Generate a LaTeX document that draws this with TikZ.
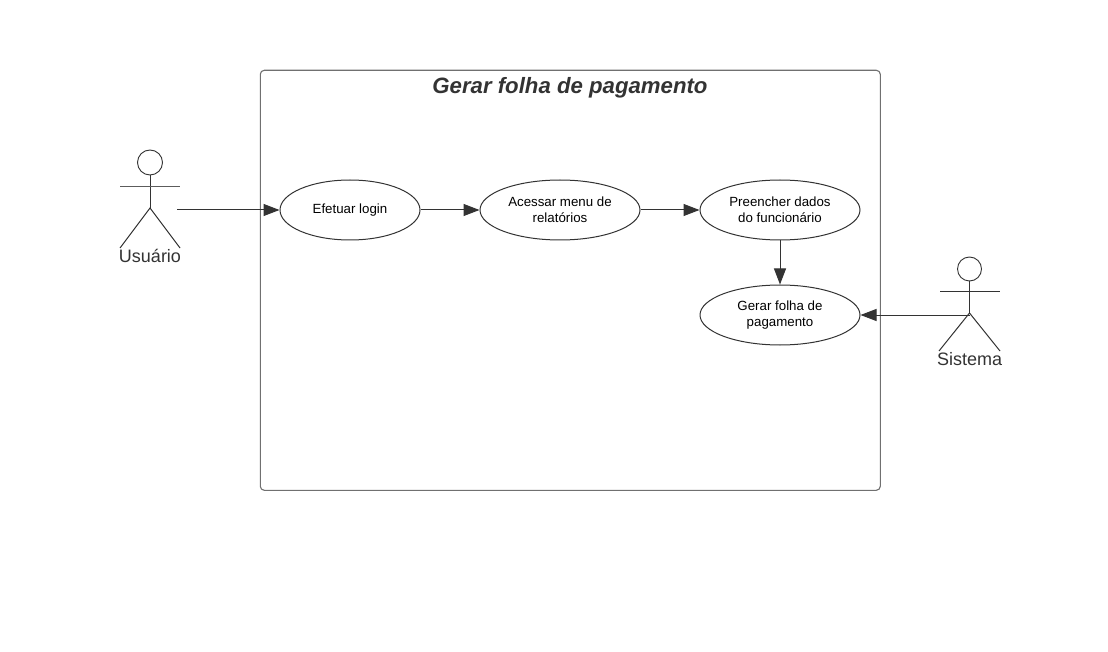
\documentclass[tikz,border=0pt]{standalone}
\usepackage{fontspec}
\setmainfont{Liberation Sans}
\usetikzlibrary{shapes.geometric,arrows.meta}
\definecolor{ink}{HTML}{333333}
\tikzset{
  x=1pt,y=-1pt,
  usecase/.style={ellipse,draw=ink,line width=1pt,fill=white,inner sep=0pt,align=center,font=\fontsize{13.3}{16}\selectfont,text=black},
  flow/.style={draw=ink,line width=1pt,-{Triangle[length=16pt,width=12pt,fill=ink]}},
  limb/.style={draw=ink,line width=1pt},
  actorlabel/.style={font=\fontsize{18}{20}\selectfont,text=ink,inner sep=0pt},
  boundary/.style={draw=ink!70!white,line width=1.1pt,rounded corners=4pt},
  boxtitle/.style={font=\fontsize{22.2}{26}\selectfont\bfseries\itshape,text=ink,inner sep=0pt},
}
\begin{document}
\begin{tikzpicture}
\useasboundingbox (0,0) rectangle (1108,652);
\fill[white] (0,0) rectangle (1108,652);
\draw[boundary] (260.3,70.3) rectangle (880.3,490.3);
\node[boxtitle] (title) at (570,88) {Gerar folha de pagamento};
% use cases
\node[usecase,minimum width=140pt,minimum height=60pt] (login) at (350,210) {Efetuar login};
\node[usecase,minimum width=160pt,minimum height=60pt] (menu) at (560,210) {Acessar menu de\\relatórios};
\node[usecase,minimum width=160pt,minimum height=60pt] (dados) at (780,210) {Preencher dados\\do funcionário};
\node[usecase,minimum width=160pt,minimum height=60pt] (gerar) at (780,315) {Gerar folha de\\pagamento};
% actor Usuario
\node[circle,draw=ink,line width=0.9pt,minimum size=25pt,inner sep=0pt] (uhead) at (150,162.5) {};
\coordinate (uhip) at (150,208);
\coordinate (uarmL) at (120,187);
\coordinate (uarmR) at (180,187);
\coordinate (ulegL) at (120,248);
\coordinate (ulegR) at (180,248);
\coordinate (uhand) at (177,210);
\draw[limb] (uhead.south) -- (uhip);
\draw[limb,draw=ink!80!white] (uarmL) -- (uarmR);
\draw[limb] (ulegL) -- (uhip) -- (ulegR);
\node[actorlabel] (ulabel) at (150,256) {Usuário};
% actor Sistema
\node[circle,draw=ink,line width=0.9pt,minimum size=24pt,inner sep=0pt] (shead) at (969.5,269) {};
\coordinate (ship) at (969.5,313);
\coordinate (sarmL) at (940,292);
\coordinate (sarmR) at (1000,292);
\coordinate (slegL) at (939,351);
\coordinate (slegR) at (1000,351);
\coordinate (shand) at (969.5,315);
\draw[limb] (shead.south) -- (ship);
\draw[limb] (sarmL) -- (sarmR);
\draw[limb] (slegL) -- (ship) -- (slegR);
\node[actorlabel] (slabel) at (969.5,359.5) {Sistema};
% connectors
\draw[flow] (uhand) -- (login.west);
\draw[flow] (login.east) -- (menu.west);
\draw[flow] (menu.east) -- (dados.west);
\draw[flow] (dados.south) -- (gerar.north);
\draw[flow] (shand) -- (gerar.east);
\end{tikzpicture}
\end{document}
